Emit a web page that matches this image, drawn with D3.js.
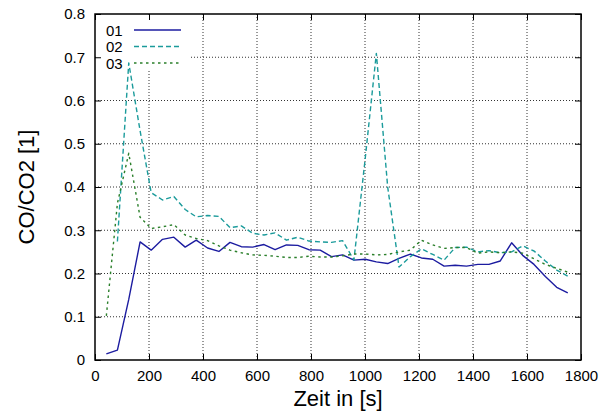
<!DOCTYPE html>
<html>
<head>
<meta charset="utf-8">
<script src="https://cdn.jsdelivr.net/npm/d3@7"></script>
<style>
  body { margin: 0; background: #fff; }
  text { font-family: "Liberation Sans", Arial, sans-serif; fill: #000; }
</style>
</head>
<body>
<script>
'use strict';

// sample times in seconds
let times = [42, 83, 125, 167, 208, 250, 292, 334, 375, 417, 459, 500, 542, 584,
  626, 667, 709, 751, 792, 834, 876, 917, 959, 1001, 1042, 1084, 1126, 1168,
  1209, 1251, 1293, 1334, 1376, 1418, 1459, 1501, 1543, 1584, 1626, 1668, 1710, 1751];

let s01 = [0.014, 0.023, 0.14, 0.273, 0.254, 0.279, 0.284, 0.261, 0.277, 0.259, 0.251,
  0.272, 0.262, 0.261, 0.267, 0.255, 0.266, 0.265, 0.255, 0.254, 0.239, 0.243,
  0.231, 0.233, 0.227, 0.223, 0.235, 0.245, 0.236, 0.233, 0.217, 0.219,
  0.217, 0.221, 0.221, 0.229, 0.271, 0.242, 0.221, 0.193, 0.168, 0.155];

// 02 has no value at the first sample
let s02 = [null, 0.274, 0.687, 0.53, 0.387, 0.370, 0.378, 0.348, 0.331, 0.334, 0.332,
  0.306, 0.310, 0.293, 0.289, 0.294, 0.277, 0.284, 0.275, 0.273, 0.272, 0.276,
  0.231, 0.467, 0.709, 0.40, 0.215, 0.239, 0.257, 0.244, 0.231, 0.26,
  0.261, 0.250, 0.253, 0.248, 0.250, 0.264, 0.252, 0.229, 0.208, 0.194];

let s03 = [0.102, 0.362, 0.478, 0.33, 0.304, 0.308, 0.313, 0.289, 0.281, 0.276, 0.264,
  0.254, 0.248, 0.243, 0.242, 0.240, 0.237, 0.237, 0.240, 0.238, 0.238, 0.241,
  0.245, 0.245, 0.243, 0.244, 0.250, 0.254, 0.277, 0.266, 0.258, 0.26,
  0.260, 0.247, 0.250, 0.248, 0.250, 0.247, 0.234, 0.221, 0.212, 0.203];

let seriesNames = ['01', '02', '03'];
let xTicks = [0, 200, 400, 600, 800, 1000, 1200, 1400, 1600, 1800];
let yTicks = [0, 0.1, 0.2, 0.3, 0.4, 0.5, 0.6, 0.7, 0.8];

let series = [
  {name: seriesNames[0], values: s01, color: '#1c1ca0', dash: null},
  {name: seriesNames[1], values: s02, color: '#1b9b9b', dash: '5,3'},
  {name: seriesNames[2], values: s03, color: '#2a7f2a', dash: '2.5,3.5'}
];

let margin = {left: 95, top: 14, right: 21, bottom: 54};
let width = 602 - margin.left - margin.right;
let height = 414 - margin.top - margin.bottom;

let x = d3.scaleLinear().domain([0, 1800]).range([0, width]);
let y = d3.scaleLinear().domain([0, 0.8]).range([height, 0]);

let svg = d3.select('body').append('svg').attr('width', 602).attr('height', 414);
let g = svg.append('g').attr('transform', 'translate(' + margin.left + ',' + margin.top + ')');

// grid
g.append('g').selectAll('line').data(xTicks.slice(1, -1)).enter().append('line')
  .attr('x1', d => x(d)).attr('x2', d => x(d)).attr('y1', 0).attr('y2', height)
  .attr('stroke', '#333').attr('stroke-width', 1).attr('stroke-dasharray', '1,2');
g.append('g').selectAll('line').data(yTicks.slice(1, -1)).enter().append('line')
  .attr('x1', 0).attr('x2', width).attr('y1', d => y(d)).attr('y2', d => y(d))
  .attr('stroke', '#333').attr('stroke-width', 1).attr('stroke-dasharray', '1,2');

// key background blanks the grid
g.append('rect').attr('x', 1).attr('y', 1).attr('width', 95).attr('height', 56).attr('fill', '#fff');

// axes with inward ticks, mirrored
let fmtY = d => d === 0 ? '0' : d3.format('.1f')(d);
let axL = g.append('g').call(d3.axisLeft(y).tickValues(yTicks).tickFormat(fmtY).tickSizeInner(-6).tickPadding(10));
let axB = g.append('g').attr('transform', 'translate(0,' + height + ')')
  .call(d3.axisBottom(x).tickValues(xTicks).tickFormat(d3.format('d')).tickSizeInner(-6).tickPadding(10));
let axR = g.append('g').attr('transform', 'translate(' + width + ',0)')
  .call(d3.axisRight(y).tickValues(yTicks).tickFormat('').tickSizeInner(-6));
let axT = g.append('g').call(d3.axisTop(x).tickValues(xTicks).tickFormat('').tickSizeInner(-6));
[axL, axB, axR, axT].forEach(a => {
  a.select('.domain').remove();
  a.selectAll('line').attr('stroke', '#000').attr('stroke-width', 1);
  a.selectAll('text').style('font-family', '"Liberation Sans", Arial, sans-serif').style('font-size', '15px').attr('fill', '#000');
});

g.append('rect').attr('width', width).attr('height', height)
  .attr('fill', 'none').attr('stroke', '#000').attr('stroke-width', 1.5);

// lines
let line = d3.line()
  .defined(d => d[1] !== null)
  .x(d => x(d[0]))
  .y(d => y(d[1]));

series.forEach(s => {
  let pts = times.map((t, i) => [t, s.values[i]]);
  let p = g.append('path').attr('d', line(pts))
    .attr('fill', 'none').attr('stroke', s.color).attr('stroke-width', 1.4)
    .attr('stroke-linejoin', 'round');
  if (s.dash) p.attr('stroke-dasharray', s.dash);
});

// key
let key = g.append('g');
series.forEach((s, i) => {
  let yy = 16 + i * 16.5;
  key.append('text').attr('x', 11).attr('y', yy + 5.5).style('font-size', '15px').text(s.name);
  let l = key.append('line').attr('x1', 39).attr('x2', 86).attr('y1', yy).attr('y2', yy)
    .attr('stroke', s.color).attr('stroke-width', 1.4);
  if (s.dash) l.attr('stroke-dasharray', s.dash);
});

// axis titles
svg.append('text').attr('x', margin.left + width / 2).attr('y', 406)
  .attr('text-anchor', 'middle').style('font-size', '22px').text('Zeit in [s]');
svg.append('text').attr('transform', 'translate(34,' + (margin.top + height / 2) + ') rotate(-90)')
  .attr('text-anchor', 'middle').style('font-size', '22px').text('CO/CO2 [1]');
</script>
</body>
</html>
